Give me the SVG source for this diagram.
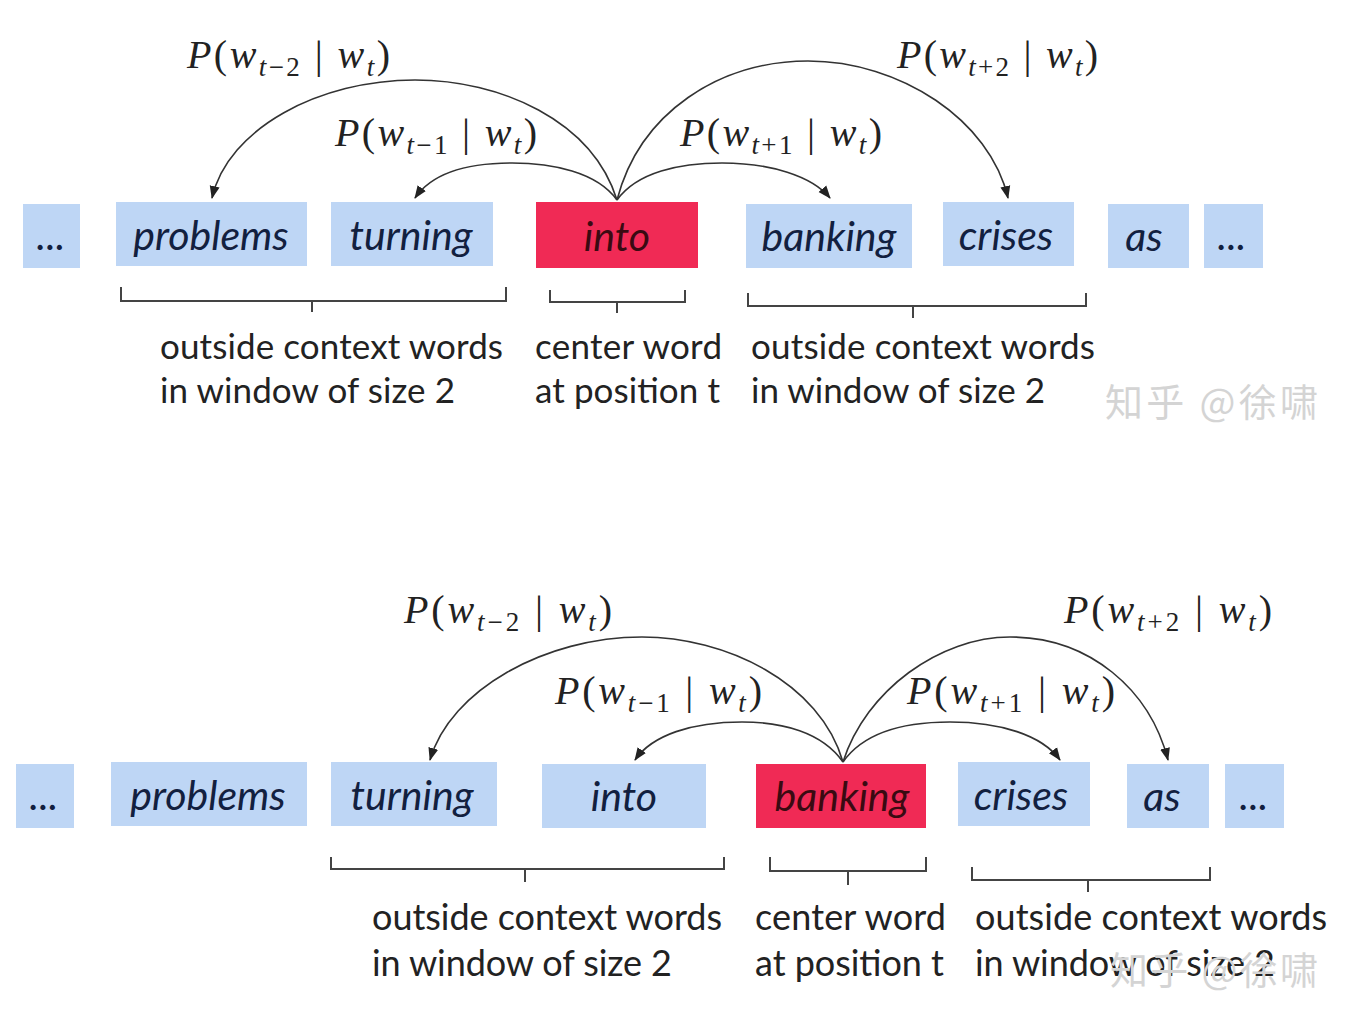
<svg xmlns="http://www.w3.org/2000/svg" width="1366" height="1014" viewBox="0 0 1366 1014">
<defs>
<marker id="ah" markerUnits="userSpaceOnUse" markerWidth="14" markerHeight="14" viewBox="0 0 14 14" refX="12" refY="7" orient="auto">
<path d="M0,2 L13,7 L0,12 Z" fill="#222"/>
</marker>
</defs>
<style>
.box{fill:#bed6f5}
.ctr{fill:#f02a55}
.w{font-family:Lato,"Open Sans",sans-serif;font-style:italic;font-size:41px;fill:#12203f;text-anchor:middle}
.wr{fill:#3a0a12}
.arc{fill:none;stroke:#333;stroke-width:1.6;marker-end:url(#ah)}
.br{fill:none;stroke:#444;stroke-width:2}
.m{font-family:"Liberation Serif","DejaVu Serif",serif;font-size:40px;fill:#222}
.i{font-style:italic}
.s{font-size:27px}
.d{font-family:Lato,"Open Sans",sans-serif;font-size:35px;fill:#222}
.db{font-size:36px}
.wm{font-family:"Noto Sans CJK SC",sans-serif;font-size:38px;fill:#d4d4d4}
</style>
<rect width="1366" height="1014" fill="#fff"/>

<!-- Top row nodes -->
<g id="t-dots1"><rect class="box" x="23" y="204" width="57" height="64"/><text class="w" x="51" y="250" font-size="28">...</text></g>
<g id="t-problems"><rect class="box" x="116" y="202" width="191" height="64"/><text class="w" x="211" y="250">problems</text></g>
<g id="t-turning"><rect class="box" x="331" y="202" width="162" height="64"/><text class="w" x="411" y="250">turning</text></g>
<g id="t-into"><rect class="ctr" x="536" y="202" width="162" height="66"/><text class="w wr" x="617" y="251">into</text></g>
<g id="t-banking"><rect class="box" x="746" y="204" width="166" height="64"/><text class="w" x="829" y="251">banking</text></g>
<g id="t-crises"><rect class="box" x="943" y="202" width="131" height="64"/><text class="w" x="1006" y="250">crises</text></g>
<g id="t-as"><rect class="box" x="1108" y="204" width="81" height="64"/><text class="w" x="1144" y="251">as</text></g>
<g id="t-dots2"><rect class="box" x="1204" y="204" width="59" height="64"/><text class="w" x="1232" y="250" font-size="28">...</text></g>

<!-- Bottom row nodes -->
<g id="b-dots1"><rect class="box" x="16" y="764" width="58" height="64"/><text class="w" x="44" y="810" font-size="28">...</text></g>
<g id="b-problems"><rect class="box" x="111" y="762" width="196" height="64"/><text class="w" x="208" y="810">problems</text></g>
<g id="b-turning"><rect class="box" x="331" y="762" width="166" height="64"/><text class="w" x="412" y="810">turning</text></g>
<g id="b-into"><rect class="box" x="542" y="764" width="164" height="64"/><text class="w" x="624" y="811">into</text></g>
<g id="b-banking"><rect class="ctr" x="756" y="764" width="170" height="64"/><text class="w wr" x="842" y="811">banking</text></g>
<g id="b-crises"><rect class="box" x="958" y="762" width="132" height="64"/><text class="w" x="1021" y="810">crises</text></g>
<g id="b-as"><rect class="box" x="1127" y="764" width="82" height="64"/><text class="w" x="1162" y="811">as</text></g>
<g id="b-dots2"><rect class="box" x="1225" y="764" width="59" height="64"/><text class="w" x="1254" y="810" font-size="28">...</text></g>

<!-- Connectors -->
<g id="connectors">
<path class="arc" d="M617,200 C592,120 500,80 415,80 C320,80 228,128 212,198"/>
<path class="arc" d="M617,200 C597,172 552,163 512,163 C462,163 430,176 415,198"/>
<path class="arc" d="M617,200 C637,172 680,163 722,163 C770,163 812,176 830,198"/>
<path class="arc" d="M617,200 C640,112 720,61 808,61 C900,61 990,120 1008,198"/>
<path class="arc" d="M843,762 C820,682 725,637 642,637 C545,637 450,690 430,760"/>
<path class="arc" d="M843,762 C822,732 782,722 742,722 C692,722 652,735 635,760"/>
<path class="arc" d="M843,762 C864,732 905,722 950,722 C1000,722 1042,735 1060,760"/>
<path class="arc" d="M843,762 C866,690 940,637 1010,637 C1090,637 1150,690 1168,760"/>
</g>

<!-- Probability labels -->
<g id="labels">
<text class="m" x="187" y="68" textLength="203" lengthAdjust="spacing"><tspan class="i">P</tspan>(<tspan class="i">w</tspan><tspan class="s i" dy="8">t</tspan><tspan class="s">−2</tspan><tspan dy="-8"> | </tspan><tspan class="i">w</tspan><tspan class="s i" dy="8">t</tspan><tspan dy="-8">)</tspan></text>
<text class="m" x="335" y="146" textLength="202" lengthAdjust="spacing"><tspan class="i">P</tspan>(<tspan class="i">w</tspan><tspan class="s i" dy="8">t</tspan><tspan class="s">−1</tspan><tspan dy="-8"> | </tspan><tspan class="i">w</tspan><tspan class="s i" dy="8">t</tspan><tspan dy="-8">)</tspan></text>
<text class="m" x="680" y="146" textLength="202" lengthAdjust="spacing"><tspan class="i">P</tspan>(<tspan class="i">w</tspan><tspan class="s i" dy="8">t</tspan><tspan class="s">+1</tspan><tspan dy="-8"> | </tspan><tspan class="i">w</tspan><tspan class="s i" dy="8">t</tspan><tspan dy="-8">)</tspan></text>
<text class="m" x="897" y="68" textLength="201" lengthAdjust="spacing"><tspan class="i">P</tspan>(<tspan class="i">w</tspan><tspan class="s i" dy="8">t</tspan><tspan class="s">+2</tspan><tspan dy="-8"> | </tspan><tspan class="i">w</tspan><tspan class="s i" dy="8">t</tspan><tspan dy="-8">)</tspan></text>
<text class="m" x="404" y="623" textLength="208" lengthAdjust="spacing"><tspan class="i">P</tspan>(<tspan class="i">w</tspan><tspan class="s i" dy="8">t</tspan><tspan class="s">−2</tspan><tspan dy="-8"> | </tspan><tspan class="i">w</tspan><tspan class="s i" dy="8">t</tspan><tspan dy="-8">)</tspan></text>
<text class="m" x="555" y="704" textLength="207" lengthAdjust="spacing"><tspan class="i">P</tspan>(<tspan class="i">w</tspan><tspan class="s i" dy="8">t</tspan><tspan class="s">−1</tspan><tspan dy="-8"> | </tspan><tspan class="i">w</tspan><tspan class="s i" dy="8">t</tspan><tspan dy="-8">)</tspan></text>
<text class="m" x="907" y="704" textLength="208" lengthAdjust="spacing"><tspan class="i">P</tspan>(<tspan class="i">w</tspan><tspan class="s i" dy="8">t</tspan><tspan class="s">+1</tspan><tspan dy="-8"> | </tspan><tspan class="i">w</tspan><tspan class="s i" dy="8">t</tspan><tspan dy="-8">)</tspan></text>
<text class="m" x="1064" y="623" textLength="208" lengthAdjust="spacing"><tspan class="i">P</tspan>(<tspan class="i">w</tspan><tspan class="s i" dy="8">t</tspan><tspan class="s">+2</tspan><tspan dy="-8"> | </tspan><tspan class="i">w</tspan><tspan class="s i" dy="8">t</tspan><tspan dy="-8">)</tspan></text>
</g>

<!-- Brackets -->
<g id="brackets">
<path class="br" d="M121,287 V301 H506 V287 M312,301 V312"/>
<path class="br" d="M550,290 V302 H685 V290 M617,302 V313"/>
<path class="br" d="M748,293 V306 H1086 V293 M913,306 V318"/>
<path class="br" d="M331,857 V869 H724 V857 M525,869 V882"/>
<path class="br" d="M770,857 V871 H926 V857 M848,871 V885"/>
<path class="br" d="M972,867 V880 H1210 V867 M1088,880 V892"/>
</g>

<!-- Descriptions -->
<g id="desc">
<text class="d" x="160" y="359" textLength="343">outside context words</text>
<text class="d" x="160" y="403" textLength="295">in window of size 2</text>
<text class="d" x="535" y="359" textLength="187">center word</text>
<text class="d" x="535" y="403" textLength="185">at position t</text>
<text class="d" x="751" y="359" textLength="344">outside context words</text>
<text class="d" x="751" y="403" textLength="294">in window of size 2</text>
<text class="d db" x="372" y="930" textLength="350">outside context words</text>
<text class="d db" x="372" y="976" textLength="300">in window of size 2</text>
<text class="d db" x="755" y="930" textLength="191">center word</text>
<text class="d db" x="755" y="976" textLength="189">at position t</text>
<text class="d db" x="975" y="930" textLength="352">outside context words</text>
<text class="d db" x="975" y="976" textLength="300">in window of size 2</text>
</g>

<text class="wm" x="1105" y="416" textLength="213">知乎 @徐啸</text>
<text class="wm" x="1110" y="984" textLength="208">知乎 @徐啸</text>
</svg>
